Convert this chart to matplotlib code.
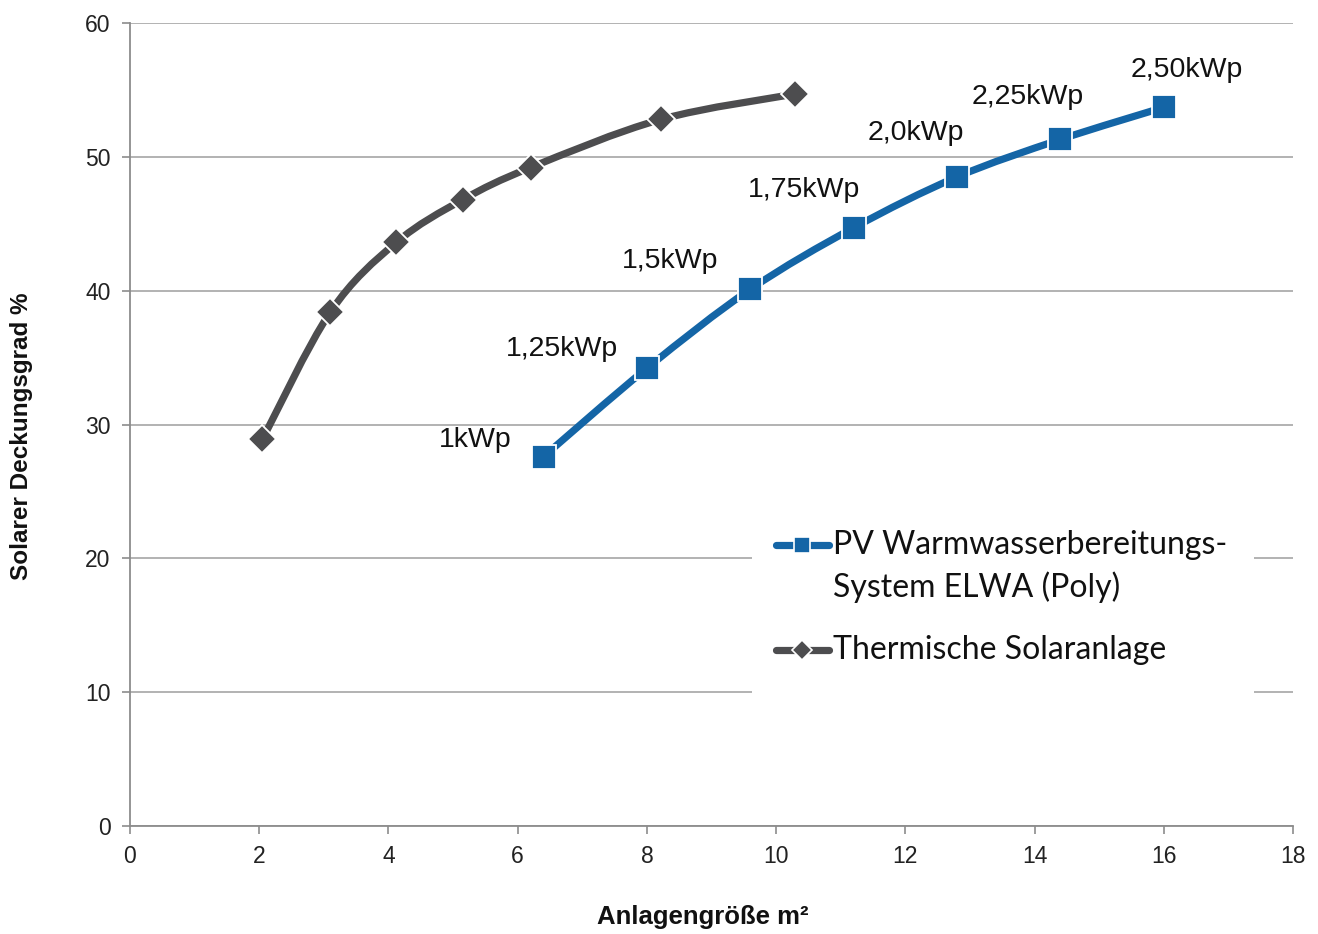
import numpy as np
import matplotlib
matplotlib.use("Agg")
import matplotlib.pyplot as plt
from matplotlib.path import Path
from matplotlib.patches import PathPatch, Rectangle
from matplotlib.lines import Line2D
import logging
logging.getLogger("matplotlib.font_manager").setLevel(logging.ERROR)

# ---- data ----
thermal_x = [2.05, 3.1, 4.12, 5.15, 6.2, 8.22, 10.3]
thermal_y = [28.9, 38.4, 43.6, 46.8, 49.2, 52.8, 54.7]

pv_x = [6.4, 8.0, 9.6, 11.2, 12.8, 14.4, 16.0]
pv_y = [27.6, 34.2, 40.1, 44.7, 48.5, 51.3, 53.7]
pv_labels = ["1kWp", "1,25kWp", "1,5kWp", "1,75kWp", "2,0kWp", "2,25kWp", "2,50kWp"]

x_ticks = [0, 2, 4, 6, 8, 10, 12, 14, 16, 18]
y_ticks = [0, 10, 20, 30, 40, 50, 60]

series_names = ["PV Warmwasserbereitungs-", "System ELWA (Poly)", "Thermische Solaranlage"]
x_title = "Anlagengröße m²"
y_title = "Solarer Deckungsgrad %"

# ---- style ----
BLUE = "#1465A6"
GRAY = "#4D4D4F"
GRID = "#A6A6A6"
NARROW = ["Liberation Sans Narrow", "Liberation Sans", "DejaVu Sans"]
LEG_FONT = ["Lato", "DejaVu Sans"]

W, H = 1318, 934
fig = plt.figure(figsize=(W / 100, H / 100), dpi=100)
fig.patch.set_facecolor("white")

def fx(px):
    return px / W

def fy(py):
    return 1 - py / H

ax = fig.add_axes([fx(130), fy(826), fx(1293) - fx(130), fy(23) - fy(826)])
ax.set_xlim(0, 18)
ax.set_ylim(0, 60)
ax.set_xticks(x_ticks)
ax.set_yticks(y_ticks)
ax.set_xticklabels([str(t) for t in x_ticks], family=NARROW, fontsize=16.5)
ax.set_yticklabels([str(t) for t in y_ticks], family=NARROW, fontsize=16.5)
ax.tick_params(axis="both", direction="out", length=6, width=1.2, color="#8C8C8C",
               labelcolor="#222222")
ax.tick_params(axis="x", pad=8)
ax.tick_params(axis="y", pad=8)
for s in ["top", "right"]:
    ax.spines[s].set_visible(False)
for s in ["left", "bottom"]:
    ax.spines[s].set_color("#8C8C8C")
    ax.spines[s].set_linewidth(1.3)
ax.grid(axis="y", color=GRID, linewidth=1.2)
ax.set_axisbelow(True)

def smooth_patch(xs, ys, color, lw):
    p = np.column_stack([xs, ys]).astype(float)
    n = len(p)
    verts = [p[0]]
    codes = [Path.MOVETO]
    for i in range(n - 1):
        p0 = p[i - 1] if i > 0 else p[i]
        p1 = p[i]
        p2 = p[i + 1]
        p3 = p[i + 2] if i + 2 < n else p[i + 1]
        c1 = p1 + (p2 - p0) / 6.0
        c2 = p2 - (p3 - p1) / 6.0
        verts += [c1, c2, p2]
        codes += [Path.CURVE4] * 3
    patch = PathPatch(Path(verts, codes), facecolor="none", edgecolor=color,
                      linewidth=lw, capstyle="butt", joinstyle="round", zorder=3)
    ax.add_patch(patch)

smooth_patch(thermal_x, thermal_y, GRAY, 5.2)
smooth_patch(pv_x, pv_y, BLUE, 5.2)

ax.plot(thermal_x, thermal_y, linestyle="none", marker="D", markersize=14,
        markerfacecolor=GRAY, markeredgecolor="white", markeredgewidth=1.3, zorder=4)
ax.plot(pv_x, pv_y, linestyle="none", marker="s", markersize=17,
        markerfacecolor=BLUE, markeredgecolor="white", markeredgewidth=1.3, zorder=4)

label_offsets = [(-68, 17), (-85, 19), (-80, 28), (-50, 38), (-41, 44), (-33, 42), (23, 37)]
for xv, yv, lab, off in zip(pv_x, pv_y, pv_labels, label_offsets):
    ax.annotate(lab, (xv, yv), xytext=off, textcoords="offset pixels",
                ha="center", va="center", family=NARROW, fontsize=20.5, color="#111111",
                zorder=5)

fig.text(fx(703), fy(917), x_title, ha="center", va="center", family=NARROW,
         fontsize=18.5, fontweight="bold", color="#111111")
fig.text(fx(22), fy(436), y_title, ha="center", va="center", rotation=90, family=NARROW,
         fontsize=17.5, fontweight="bold", color="#111111")

# ---- legend (manual, handle aligned with first line) ----
fig.patches.append(Rectangle((fx(752), fy(705)), fx(1254) - fx(752), fy(515) - fy(705),
                             transform=fig.transFigure, facecolor="white", edgecolor="none",
                             zorder=10))
for yy, col, mk, ms in [(545, BLUE, "s", 11), (650, GRAY, "D", 10)]:
    fig.add_artist(Line2D([fx(776), fx(829)], [fy(yy), fy(yy)], transform=fig.transFigure,
                          color=col, linewidth=5.2, solid_capstyle="round", zorder=11))
    fig.add_artist(Line2D([fx(802)], [fy(yy)], transform=fig.transFigure, marker=mk,
                          markersize=ms, markerfacecolor=col, markeredgecolor="white",
                          markeredgewidth=1.2, linestyle="none", zorder=12))
for yy, txt in zip([545, 587, 650], series_names):
    fig.text(fx(833), fy(yy), txt, ha="left", va="center", family=LEG_FONT,
             fontsize=23, color="#111111", zorder=12)

fig.savefig("out.png", dpi=100, facecolor="white")
